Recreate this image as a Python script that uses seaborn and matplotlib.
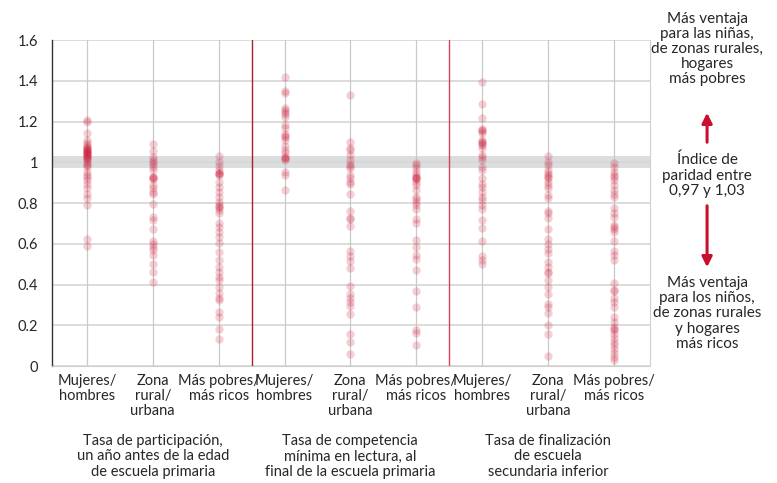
import matplotlib
matplotlib.use("Agg")
import matplotlib.pyplot as plt
import seaborn as sns
import pandas as pd

# categories (three indicators x three parity types)
categories = ["Mujeres/\nhombres", "Zona\nrural/\nurbana", "Más pobres/\nmás ricos"]
groups = [
    "Tasa de participación,\nun año antes de la edad\nde escuela primaria",
    "Tasa de competencia\nmínima en lectura, al\nfinal de la escuela primaria",
    "Tasa de finalización\nde escuela\nsecundaria inferior",
]

# parity index values, one list per column
g1_gender = [1.207, 1.199, 1.145, 1.109, 1.093, 1.085, 1.076, 1.068, 1.060, 1.052, 1.043,
             1.035, 1.027, 1.020, 1.011, 1.003, 0.994, 0.986, 0.978, 0.954, 0.937, 0.913,
             0.896, 0.872, 0.847, 0.823, 0.790, 0.623, 0.590, 1.05, 1.04, 1.03, 1.06,
             1.07, 1.045, 1.055, 1.02, 0.93]
g1_rural = [1.088, 1.055, 1.027, 1.011, 0.994, 0.978, 0.962, 0.929, 0.921, 0.888, 0.872,
            0.855, 0.844, 0.798, 0.733, 0.716, 0.675, 0.613, 0.599, 0.586, 0.569, 0.545,
            0.500, 0.463, 0.411, 1.0, 0.93, 0.92]
g1_wealth = [1.030, 1.003, 0.981, 0.962, 0.946, 0.937, 0.904, 0.880, 0.855, 0.831, 0.806,
             0.790, 0.782, 0.766, 0.749, 0.700, 0.684, 0.659, 0.635, 0.605, 0.561, 0.520,
             0.487, 0.463, 0.438, 0.422, 0.389, 0.357, 0.332, 0.324, 0.267, 0.242, 0.180,
             0.131, 0.95, 0.78, 0.945]
g2_gender = [1.420, 1.351, 1.341, 1.268, 1.256, 1.248, 1.237, 1.223, 1.183, 1.171, 1.137,
             1.122, 1.109, 1.079, 1.063, 1.047, 1.027, 1.019, 1.011, 0.954, 0.937, 0.864,
             1.02, 1.13]
g2_rural = [1.330, 1.101, 1.068, 1.060, 1.035, 1.011, 0.994, 0.981, 0.970, 0.937, 0.921,
            0.904, 0.896, 0.844, 0.761, 0.725, 0.689, 0.566, 0.540, 0.515, 0.482, 0.393,
            0.353, 0.332, 0.316, 0.296, 0.258, 0.157, 0.118, 0.061, 0.72]
g2_wealth = [0.998, 0.986, 0.970, 0.954, 0.937, 0.929, 0.921, 0.904, 0.888, 0.864, 0.831,
             0.806, 0.790, 0.769, 0.721, 0.700, 0.617, 0.586, 0.545, 0.528, 0.474, 0.370,
             0.291, 0.177, 0.164, 0.106, 0.92, 0.925, 0.82]
g3_gender = [1.395, 1.286, 1.220, 1.166, 1.155, 1.142, 1.109, 1.101, 1.084, 1.068, 1.035,
             1.027, 1.011, 0.978, 0.962, 0.921, 0.896, 0.880, 0.855, 0.831, 0.815, 0.790,
             0.769, 0.716, 0.680, 0.615, 0.540, 0.520, 0.500, 1.10, 1.09, 1.16]
g3_rural = [1.030, 1.003, 0.986, 0.962, 0.937, 0.921, 0.904, 0.888, 0.872, 0.839, 0.823,
            0.762, 0.749, 0.725, 0.675, 0.626, 0.599, 0.577, 0.553, 0.512, 0.487, 0.463,
            0.455, 0.422, 0.386, 0.353, 0.307, 0.291, 0.262, 0.201, 0.160, 0.049, 0.95, 0.93]
g3_wealth = [0.998, 0.978, 0.954, 0.937, 0.929, 0.913, 0.888, 0.864, 0.847, 0.831, 0.774,
             0.749, 0.733, 0.692, 0.684, 0.671, 0.659, 0.615, 0.566, 0.545, 0.523, 0.406,
             0.373, 0.332, 0.316, 0.291, 0.242, 0.218, 0.190, 0.177, 0.160, 0.136, 0.119,
             0.103, 0.082, 0.062, 0.046, 0.029, 0.37, 0.18]

columns = [g1_gender, g1_rural, g1_wealth, g2_gender, g2_rural, g2_wealth,
           g3_gender, g3_rural, g3_wealth]
col_names = [f"{gi}-{ci}" for gi in range(3) for ci in range(3)]

rows = []
for name, vals in zip(col_names, columns):
    for v in vals:
        rows.append({"col": name, "value": v})
df = pd.DataFrame(rows)

sns.set_style("white")
plt.rcParams["font.family"] = ["Lato", "DejaVu Sans"]

red = "#cf1f3a"

fig, ax = plt.subplots(figsize=(7.77, 4.83), dpi=100)
fig.subplots_adjust(left=0.067, right=0.8365, top=0.917, bottom=0.242)

# parity band
ax.axhspan(0.97, 1.03, color="#dcdddf", zorder=0, lw=0)

sns.stripplot(data=df, x="col", y="value", order=col_names, jitter=False,
              color=red, alpha=0.21, size=6, linewidth=0, ax=ax, zorder=3)

ax.set_xlim(-0.53, 8.55)
ax.set_ylim(0, 1.6)
ax.set_yticks([0, 0.2, 0.4, 0.6, 0.8, 1, 1.2, 1.4, 1.6])
ax.set_yticklabels(["0", "0.2", "0.4", "0.6", "0.8", "1", "1.2", "1.4", "1.6"], fontsize=10.5)
ax.yaxis.grid(True, color="#d6d6d6", lw=1.2, zorder=1)
for i in range(9):
    ax.axvline(i, color="#c9c9c9", lw=0.9, zorder=1)
ax.axvline(2.5, color="#a8202c", lw=1.0, zorder=2)
ax.axvline(5.5, color="#d8405a", lw=1.0, zorder=2)

ax.set_xticks(range(9))
ax.set_xticklabels(categories * 3, fontsize=10.5, linespacing=1.05, va="top")
ax.tick_params(axis="x", length=0, pad=6)
ax.tick_params(axis="y", length=0, pad=10)
ax.set_xlabel("")
ax.set_ylabel("")

ax.spines["top"].set_visible(False)
ax.spines["left"].set_color("#333333")
ax.spines["left"].set_linewidth(1.0)
ax.spines["bottom"].set_color("#cfcfcf")
ax.spines["right"].set_color("#cfcfcf")

# group labels
for gi, label in enumerate(groups):
    ax.text(gi * 3 + 1, -0.335, label, ha="center", va="top", fontsize=10.5,
            linespacing=1.1, clip_on=False)

# right-hand annotations
fig.text(0.91, 0.975, "Más ventaja\npara las niñas,\nde zonas rurales,\nhogares\nmás pobres",
         ha="center", va="top", fontsize=11, linespacing=1.1)
fig.text(0.91, 0.637, "Índice de\nparidad entre\n0,97 y 1,03",
         ha="center", va="center", fontsize=11, linespacing=1.1)
fig.text(0.91, 0.428, "Más ventaja\npara los niños,\nde zonas rurales\ny hogares\nmás ricos",
         ha="center", va="top", fontsize=11, linespacing=1.1)
ax.annotate("", xy=(0.91, 1 - 110 / 483), xytext=(0.91, 1 - 145 / 483),
            xycoords="figure fraction", textcoords="figure fraction",
            arrowprops=dict(arrowstyle="-|>", color="#c8102e", lw=2.2, mutation_scale=15))
ax.annotate("", xy=(0.91, 1 - 270 / 483), xytext=(0.91, 1 - 203 / 483),
            xycoords="figure fraction", textcoords="figure fraction",
            arrowprops=dict(arrowstyle="-|>", color="#c8102e", lw=2.2, mutation_scale=15))

fig.savefig("out.png", dpi=100)
